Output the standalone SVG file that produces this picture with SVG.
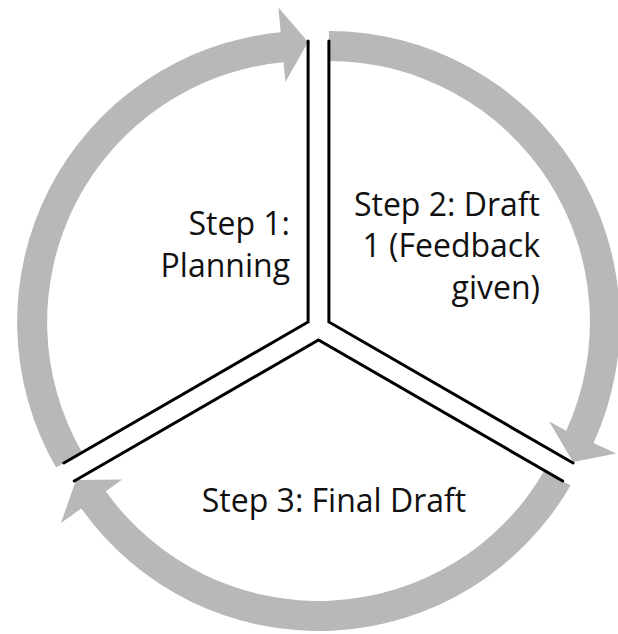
<svg xmlns="http://www.w3.org/2000/svg" width="618" height="634" viewBox="0 0 618 634">
  <style>
    .arrow { fill: #b8b8b8; stroke: none; }
    .edge { fill: none; stroke: #000; stroke-width: 3; stroke-linecap: round; stroke-linejoin: miter; }
    .label { font-family: "Open Sans", "Liberation Sans", sans-serif; font-size: 32px; fill: #111; }
  </style>
  <rect width="618" height="634" fill="#fff"/>
  <g id="connectors">
    <path class="arrow" d="M56.1,467.5 A291,291 0 0 1 280.7,32.3 L278.4,7.4 L308.1,42 L285.4,82.1 L283.5,62.2 A261,261 0 0 0 82.1,452.5 Z"/>
    <path class="arrow" d="M328.9,31 A291,291 0 0 1 593.5,443.1 L616.2,453.6 L573,462 L549,421.3 L566.2,430.7 A261,261 0 0 0 328.9,61 Z"/>
    <path class="arrow" d="M570.5,485.5 A291,291 0 0 1 81.3,508.6 L60.9,523.1 L76,480 L122.1,479.6 L105.8,491.2 A261,261 0 0 0 544.5,470.5 Z"/>
  </g>
  <g id="step1">
    <path class="edge" d="M308.1,41 L308.1,322 L63.9,463"/>
    <text class="label" text-anchor="end" x="290" y="235">Step 1:</text>
    <text class="label" text-anchor="end" x="290" y="277">Planning</text>
  </g>
  <g id="step2">
    <path class="edge" d="M328.9,41 L328.9,322 L573.1,463"/>
    <text class="label" text-anchor="end" x="540" y="216">Step 2: Draft</text>
    <text class="label" text-anchor="end" x="540" y="257">1 (Feedback</text>
    <text class="label" text-anchor="end" x="540" y="299">given)</text>
  </g>
  <g id="step3">
    <path class="edge" d="M74.3,481 L318.5,340 L562.7,481"/>
    <text class="label" text-anchor="middle" x="334" y="512">Step 3: Final Draft</text>
  </g>
</svg>
